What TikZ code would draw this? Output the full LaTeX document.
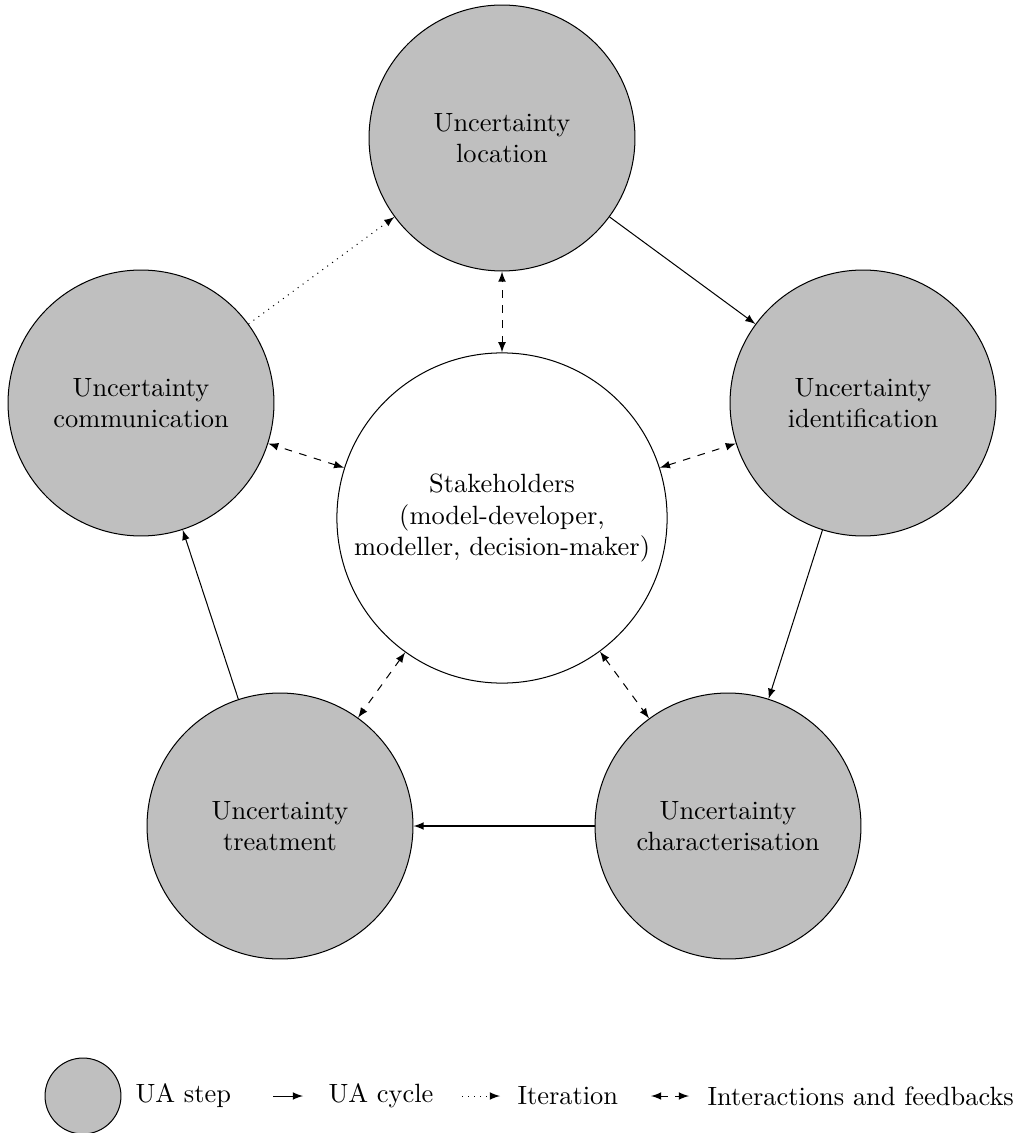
\documentclass[tikz,border=0pt]{standalone}
\usetikzlibrary{arrows}
\begin{document}
\begin{tikzpicture}[x=0.3937pt,y=-0.3937pt,
  >=latex,
  every node/.style={font=\fontsize{10.4pt}{12.4pt}\selectfont},
  uastep/.style={circle,draw,fill=lightgray,minimum size=104.7pt,inner sep=1pt,align=center},
  hub/.style={circle,draw,fill=white,minimum size=130pt,inner sep=1pt,align=center},
  cycle/.style={->},
  iter/.style={->,dotted},
  feedback/.style={<->,dashed},
  legendtext/.style={anchor=west,inner sep=0pt}]
\useasboundingbox (0,0) rectangle (1012,1133);

% UA steps arranged on a pentagon around the stakeholders
\node[hub] (stake) at (502,518) {Stakeholders\\(model-developer,\\modeller, decision-maker)};
\node[uastep] (loc)  at (502,138) {Uncertainty\\location};
\node[uastep] (iden) at (863,403) {Uncertainty\\identification};
\node[uastep] (char) at (728,826) {Uncertainty\\characterisation};
\node[uastep] (treat) at (280,826) {Uncertainty\\treatment};
\node[uastep] (comm) at (141,403) {Uncertainty\\communication};

% UA cycle
\draw[cycle] (loc) -- (iden);
\draw[cycle] (iden) -- (char);
\draw[cycle] (char) -- (treat);
\draw[cycle] (treat) -- (comm);
\draw[iter] (comm) -- (loc);

% interactions with the stakeholders
\foreach \s in {loc,iden,char,treat,comm}
  \draw[feedback] (stake) -- (\s);

% legend
\node[circle,draw,fill=lightgray,minimum size=29.9pt,inner sep=0pt] (lgstep) at (83,1096) {};
\node[legendtext] (lgsteptxt) at (135,1096) {UA step};
\coordinate (c1) at (273,1096);
\coordinate (c2) at (303,1096);
\draw[cycle] (c1) -- (c2);
\node[legendtext] (lgcyctxt) at (328,1096) {UA cycle};
\coordinate (i1) at (462,1096);
\coordinate (i2) at (500,1096);
\draw[iter] (i1) -- (i2);
\node[legendtext] (lgitertxt) at (517,1096) {Iteration};
\coordinate (f1) at (651,1096);
\coordinate (f2) at (689,1096);
\draw[feedback] (f1) -- (f2);
\node[legendtext] (lgfbtxt) at (707,1096) {Interactions and feedbacks};
\end{tikzpicture}
\end{document}
